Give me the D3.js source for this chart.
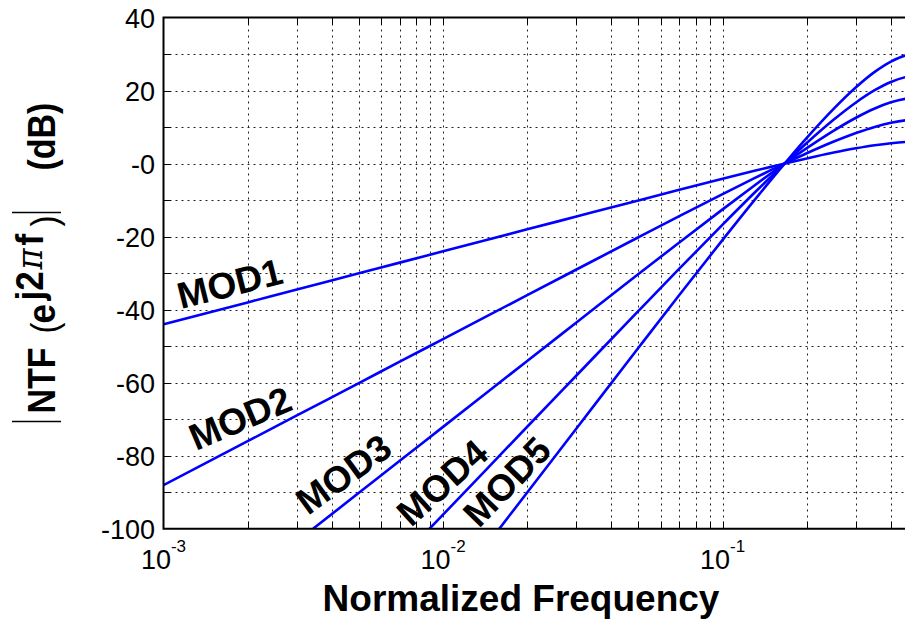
<!DOCTYPE html>
<html>
<head>
<meta charset="utf-8">
<script src="https://cdn.jsdelivr.net/npm/d3@7"></script>
<style>
  html, body { margin: 0; padding: 0; background: #fff; overflow: hidden; }
  svg { display: block; }
  text { font-family: "Liberation Sans", Arial, Helvetica, sans-serif; fill: #000; }
</style>
</head>
<body>
<svg id="chart" width="905" height="622"></svg>
<script>
// Noise transfer function magnitude (dB) of 1st..5th order modulators
const mod1 = [
  [0.001, -44.04], [0.002, -38.02], [0.003, -34.49], [0.005, -30.06], [0.007, -27.13],
  [0.01, -24.04], [0.02, -18.02], [0.03, -14.51], [0.05, -10.09], [0.07, -7.20],
  [0.1, -4.18], [0.13, -2.00], [0.15, -0.84], [0.17, 0.16], [0.2, 1.41],
  [0.25, 3.01], [0.3, 4.18], [0.35, 5.02], [0.4, 5.58], [0.45, 5.91], [0.5, 6.02]
];
const mod2 = [
  [0.001, -88.08], [0.002, -76.04], [0.003, -68.98], [0.005, -60.12], [0.007, -54.26],
  [0.01, -48.08], [0.02, -36.04], [0.03, -29.02], [0.05, -20.18], [0.07, -14.40],
  [0.1, -8.36], [0.13, -4.00], [0.15, -1.68], [0.17, 0.31], [0.2, 2.81],
  [0.25, 6.02], [0.3, 8.36], [0.35, 10.04], [0.4, 11.17], [0.45, 11.83], [0.5, 12.04]
];
const mod3 = [
  [0.00343, -100], [0.005, -90.18], [0.007, -81.39],
  [0.01, -72.12], [0.02, -54.06], [0.03, -43.53], [0.05, -30.27], [0.07, -21.60],
  [0.1, -12.54], [0.13, -6.00], [0.15, -2.52], [0.17, 0.47], [0.2, 4.22],
  [0.25, 9.03], [0.3, 12.54], [0.35, 15.06], [0.4, 16.76], [0.45, 17.74], [0.5, 18.06]
];
const mod4 = [
  [0.00895, -100], [0.01, -96.16], [0.02, -72.08], [0.03, -58.04], [0.05, -40.36], [0.07, -28.80],
  [0.1, -16.72], [0.13, -8.00], [0.15, -3.36], [0.17, 0.62], [0.2, 5.62],
  [0.25, 12.04], [0.3, 16.72], [0.35, 20.08], [0.4, 22.34], [0.45, 23.65], [0.5, 24.08]
];
const mod5 = [
  [0.0159, -100], [0.02, -90.10], [0.03, -72.55], [0.05, -50.45], [0.07, -36.00],
  [0.1, -20.90], [0.13, -10.00], [0.15, -4.20], [0.17, 0.78], [0.2, 7.03],
  [0.25, 15.05], [0.3, 20.90], [0.35, 25.10], [0.4, 27.93], [0.45, 29.57], [0.5, 30.10]
];
const seriesNames = ["MOD1", "MOD2", "MOD3", "MOD4", "MOD5"];
const seriesData = [mod1, mod2, mod3, mod4, mod5];

const xDomain = [0.001, 0.5];
const yDomain = [-100, 40];
const xTickExps = [-3, -2, -1];
const yTickLabels = ["40", "20", "-0", "-20", "-40", "-60", "-80", "-100"];
const yTickValues = [40, 20, 0, -20, -40, -60, -80, -100];
const yGridValues = [30, 20, 10, 0, -10, -20, -30, -40, -50, -60, -70, -80, -90];

// in-plot text labels: [name, x(px), y(px), rotation(deg)]
const labelPlacement = [
  ["MOD1", 181, 309, -14],
  ["MOD2", 196, 451, -23],
  ["MOD3", 308, 516, -36],
  ["MOD4", 411, 528, -42],
  ["MOD5", 479, 529, -46]
];

(function draw() {
  const svg = d3.select("#chart");
  const pLeft = 163.5, pRight = 918, pTop = 17.5, pBottom = 528.7;

  const x = d3.scaleLog().domain(xDomain).range([pLeft, pRight]);
  const y = d3.scaleLinear().domain(yDomain).range([pBottom, pTop]);

  // minor log gridlines
  const xGrid = [];
  for (let e = -3; e <= -1; e++) {
    for (let m = 1; m <= 9; m++) {
      const v = m * Math.pow(10, e);
      if (v > xDomain[0] && v < xDomain[1]) xGrid.push(v);
    }
  }
  const px = v => Math.round(v) + 0.5;

  const grid = svg.append("g")
    .attr("stroke", "#222")
    .attr("stroke-width", 1)
    .attr("stroke-dasharray", "2,4");
  grid.selectAll("line.vx").data(xGrid).join("line")
    .attr("x1", d => px(x(d))).attr("x2", d => px(x(d)))
    .attr("y1", pTop).attr("y2", pBottom);
  grid.selectAll("line.hy").data(yGridValues).join("line")
    .attr("x1", pLeft).attr("x2", pRight)
    .attr("y1", d => px(y(d))).attr("y2", d => px(y(d)));

  // tick marks, pointing inwards
  const tickLen = 7;
  const ticks = svg.append("g").attr("stroke", "#000").attr("stroke-width", 1);
  ticks.selectAll("line.bt").data(xGrid).join("line")
    .attr("x1", d => px(x(d))).attr("x2", d => px(x(d)))
    .attr("y1", pBottom).attr("y2", pBottom - tickLen);
  ticks.selectAll("line.tt").data(xGrid).join("line")
    .attr("x1", d => px(x(d))).attr("x2", d => px(x(d)))
    .attr("y1", pTop).attr("y2", pTop + tickLen);
  ticks.selectAll("line.lt").data(yGridValues).join("line")
    .attr("x1", pLeft).attr("x2", pLeft + tickLen)
    .attr("y1", d => px(y(d))).attr("y2", d => px(y(d)));

  // curves
  svg.append("clipPath").attr("id", "plotclip")
    .append("rect").attr("x", pLeft).attr("y", pTop)
    .attr("width", pRight - pLeft).attr("height", pBottom - pTop);
  const line = d3.line().x(d => x(d[0])).y(d => y(d[1])).curve(d3.curveMonotoneX);
  svg.append("g").attr("clip-path", "url(#plotclip)")
    .selectAll("path").data(seriesData).join("path")
    .attr("d", line)
    .attr("fill", "none")
    .attr("stroke", "#0000ff")
    .attr("stroke-width", 2.6)
    .attr("stroke-linejoin", "round");

  // axes frame
  svg.append("path")
    .attr("d", `M${pRight},${pTop}H${pLeft}V${pBottom}H${pRight}`)
    .attr("fill", "none").attr("stroke", "#000").attr("stroke-width", 2);

  // y tick labels
  svg.append("g").selectAll("text").data(yTickValues).join("text")
    .attr("x", 155).attr("y", d => y(d) + 10)
    .attr("text-anchor", "end")
    .attr("font-size", 27)
    .text((d, i) => yTickLabels[i]);

  // x tick labels: 10 with exponent
  const xl = svg.append("g").selectAll("text").data(xTickExps).join("text")
    .attr("x", d => x(Math.pow(10, d)))
    .attr("y", 569)
    .attr("text-anchor", "middle")
    .attr("font-size", 27);
  xl.append("tspan").text("10");
  xl.append("tspan").attr("dy", -17).attr("font-size", 17).text(d => String(d));

  // x axis title
  svg.append("text")
    .attr("x", 521).attr("y", 611)
    .attr("text-anchor", "middle")
    .attr("font-size", 37).attr("font-weight", "bold")
    .text("Normalized Frequency");

  // y axis title: |NTF(e^{j2πf})|  (dB)
  const yt = svg.append("g").attr("transform", "translate(55,421.5) rotate(-90) scale(1,1.12)");
  yt.append("text").attr("x", 8).attr("y", 0).attr("font-size", 34).attr("font-weight", "bold").text("NTF");
  yt.append("text").attr("x", 88).attr("y", 2).attr("font-size", 33).text("(");
  yt.append("text").attr("x", 98).attr("y", 0).attr("font-size", 35).attr("font-weight", "bold").text("e");
  yt.append("text").attr("x", 121).attr("y", -11).attr("font-size", 35).attr("font-weight", "bold").text("j2");
  yt.append("text").attr("x", 152).attr("y", -12).attr("font-size", 32)
    .style("font-family", "'DejaVu Serif', serif").attr("font-style", "italic").text("π");
  yt.append("text").attr("x", 176).attr("y", -11).attr("font-size", 35).attr("font-weight", "bold").text("f");
  yt.append("text").attr("x", 195).attr("y", 2).attr("font-size", 33).text(")");
  yt.append("text").attr("x", 251).attr("y", 0).attr("font-size", 34).attr("font-weight", "bold").text("(dB)");
  // magnitude bars
  svg.append("g").attr("stroke", "#000").attr("stroke-width", 1.5)
    .selectAll("line").data([421.5, 212.5]).join("line")
    .attr("x1", 12).attr("x2", 61).attr("y1", d => d).attr("y2", d => d);

  // series labels
  svg.append("g").selectAll("text").data(labelPlacement).join("text")
    .attr("transform", d => `translate(${d[1]},${d[2]}) rotate(${d[3]})`)
    .attr("font-size", 37).attr("font-weight", "bold")
    .text(d => d[0]);
})();
</script>
</body>
</html>
